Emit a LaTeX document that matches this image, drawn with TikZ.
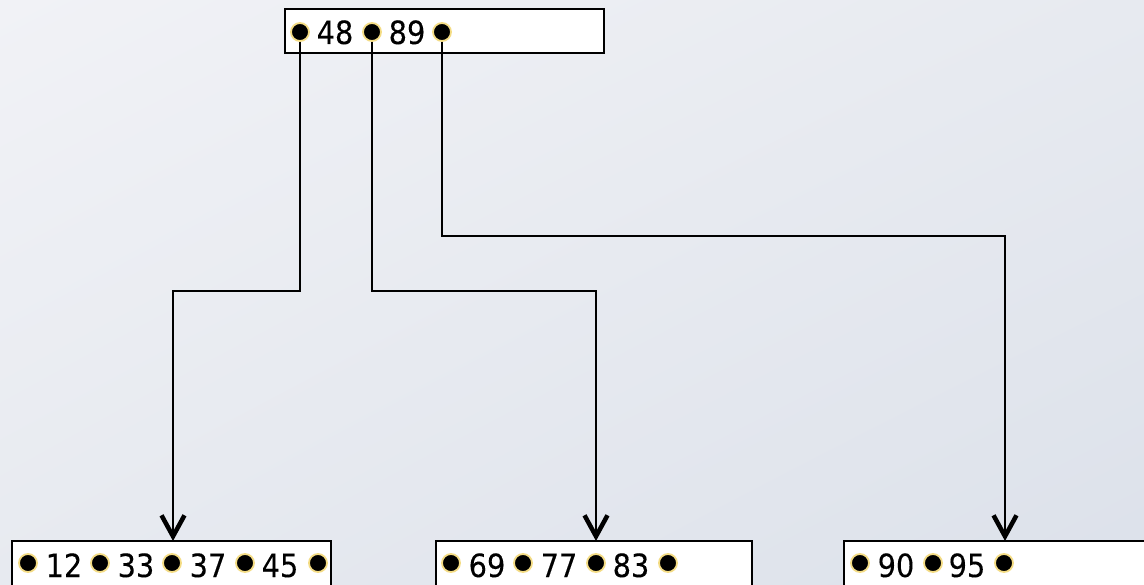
\documentclass[tikz,border=0pt]{standalone}
\usepackage{fontspec}
\setmainfont{DejaVu Sans Condensed}
\newfontfamily\keyfont{DejaVu Sans Condensed}[FakeBold=0.2]
\usetikzlibrary{arrows.meta,shadings}
\definecolor{bgA}{HTML}{F1F2F6}
\definecolor{bgM}{HTML}{E7EAF0}
\definecolor{bgB}{HTML}{DCE1EA}
\definecolor{ring}{HTML}{F4DC84}
\tikzset{
  keybox/.style={draw=black, fill=white, line width=2pt},
  ptr/.style={circle, fill=black, draw=ring, line width=1.8pt, minimum size=18pt, inner sep=0pt},
  key/.style={anchor=base, inner sep=0pt, font=\keyfont\fontsize{32}{32}\selectfont},
  link/.style={draw=black, line width=1.8pt, -{Straight Barb[length=21pt, width=23pt, line width=4.5pt]}}
}
\begin{document}
\begin{tikzpicture}[x=1pt, y=-1pt]
  \useasboundingbox (0,0) rectangle (1144,585);
  \clip (0,0) rectangle (1144,585);
  \shade[upper left=bgA, upper right=bgM, lower left=bgM, lower right=bgB] (0,0) rectangle (1144,585);

  % node boxes
  \draw[keybox] (285,9) rectangle (604,53);
  \draw[keybox] (12,541) rectangle (331,600);
  \draw[keybox] (436,541) rectangle (752,600);
  \draw[keybox] (844,541) rectangle (1160,600);

  % arrow tips on the child boxes
  \coordinate (t1) at (173,541);
  \coordinate (t2) at (596,541);
  \coordinate (t3) at (1005,541);

  % root pointers
  \node[ptr] (r1) at (300,32) {};
  \node[ptr] (r2) at (372,32) {};
  \node[ptr] (r3) at (442,32) {};

  \draw[link] (r1) |- (173,291) -- (t1);
  \draw[link] (r2) |- (596,291) -- (t2);
  \draw[link] (r3) |- (1005,236) -- (t3);

  \node[key] (k48) at (335,44) {48};
  \node[key] (k89) at (407,44) {89};

  % left leaf
  \foreach \x [count=\i] in {28,100,172,245,318} \node[ptr] (a\i) at (\x,563) {};
  \node[key] (k12) at (64,577) {12};
  \node[key] (k33) at (136,577) {33};
  \node[key] (k37) at (208,577) {37};
  \node[key] (k45) at (280,577) {45};

  % middle leaf
  \foreach \x [count=\i] in {451,523,596,668} \node[ptr] (b\i) at (\x,563) {};
  \node[key] (k69) at (487,577) {69};
  \node[key] (k77) at (559,577) {77};
  \node[key] (k83) at (631,577) {83};

  % right leaf
  \foreach \x [count=\i] in {860,933,1004} \node[ptr] (c\i) at (\x,563) {};
  \node[key] (k90) at (896,577) {90};
  \node[key] (k95) at (967,577) {95};
\end{tikzpicture}
\end{document}
